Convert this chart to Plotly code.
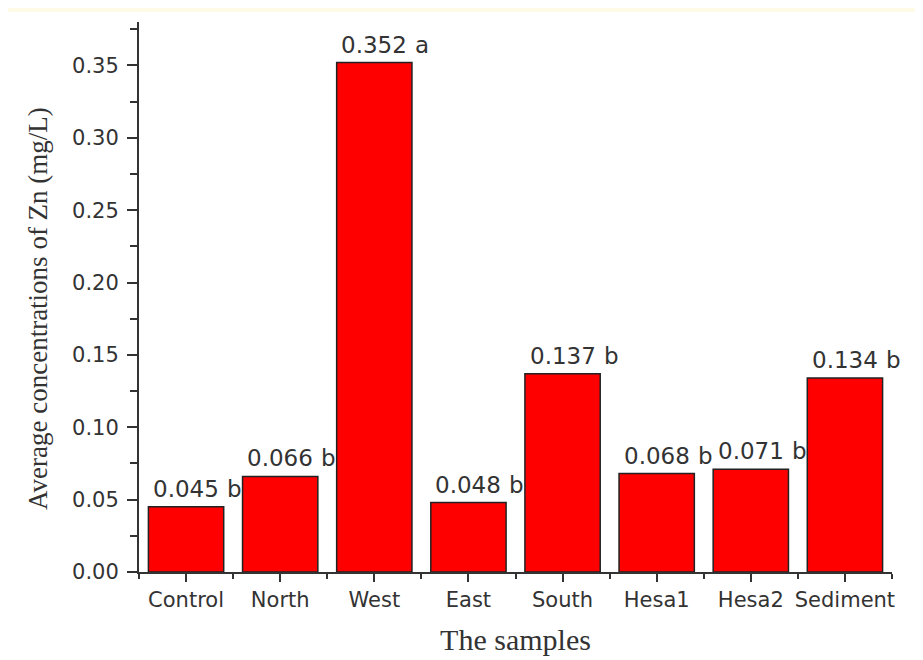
import plotly.graph_objects as go

categories = ["Control", "North", "West", "East", "South", "Hesa1", "Hesa2", "Sediment"]
values = [0.045, 0.066, 0.352, 0.048, 0.137, 0.068, 0.071, 0.134]
groups = ["b", "b", "a", "b", "b", "b", "b", "b"]
y_ticks = [0.00, 0.05, 0.10, 0.15, 0.20, 0.25, 0.30, 0.35]

xs = list(range(len(categories)))

fig = go.Figure(go.Bar(
    x=xs, y=values, width=0.8,
    marker=dict(color="#ff0000", line=dict(color="#222222", width=1.5)),
    hoverinfo="skip",
))

label_font = dict(family="DejaVu Sans", size=23, color="#333333")
for x, v, g in zip(xs, values, groups):
    fig.add_annotation(x=x, y=v, xref="x", yref="y", text=f"{v:.3f}", showarrow=False,
                       xanchor="center", yanchor="bottom", yshift=3, font=label_font)
    fig.add_annotation(x=x, y=v, xref="x", yref="y", text=g, showarrow=False,
                       xanchor="left", yanchor="bottom", yshift=3, xshift=39, font=label_font)

axis_font = dict(family="DejaVu Sans", size=21, color="#333333")
title_x_font = dict(family="Liberation Serif, Times New Roman", size=30, color="#333333")
title_y_font = dict(family="Liberation Serif, Times New Roman", size=27, color="#333333")

W, H = 915, 652
L, R, T, B = 131, 31, 14, 88
pw, ph = W - L - R, H - T - B

fig.update_layout(
    width=W, height=H,
    margin=dict(l=L, r=R, t=T, b=B, autoexpand=False),
    paper_bgcolor="white", plot_bgcolor="white",
    showlegend=False,
    shapes=[
        dict(type="rect", xref="paper", yref="paper", x0=-L / pw, x1=1 + R / pw, y0=1 + (T - 4) / ph, y1=1 + T / ph,
             fillcolor="#fffbe6", line=dict(width=0), layer="below"),
    ],
    xaxis=dict(
        range=[-0.5, 7.5], tickmode="array", tickvals=xs, ticktext=categories,
        showgrid=False, zeroline=False, showline=True, linecolor="#333333", linewidth=2,
        ticks="outside", ticklen=8, tickwidth=2, tickcolor="#333333",
        minor=dict(tickmode="array", tickvals=[i + 0.5 for i in range(-1, len(categories))],
                   ticks="outside", ticklen=5, tickwidth=2, tickcolor="#333333"),
        tickfont=axis_font,
        title=dict(text="The samples", font=title_x_font, standoff=18),
    ),
    yaxis=dict(
        range=[0, 0.38], tickmode="array", tickvals=y_ticks,
        ticktext=[f"{t:.2f}" for t in y_ticks],
        showgrid=False, zeroline=False, showline=True, linecolor="#333333", linewidth=2,
        ticks="outside", ticklen=10, tickwidth=2, tickcolor="#333333",
        ticklabelstandoff=4,
        minor=dict(dtick=0.025, tick0=0, ticks="outside", ticklen=7, tickwidth=2, tickcolor="#333333"),
        tickfont=axis_font,
    ),
)

fig.add_annotation(xref="paper", yref="paper", x=(30 - L) / pw, y=0.5, yshift=-12,
                   text="Average concentrations of Zn (mg/L)", textangle=-90, showarrow=False,
                   xanchor="center", yanchor="middle", font=title_y_font)

fig.write_html("out.html")
